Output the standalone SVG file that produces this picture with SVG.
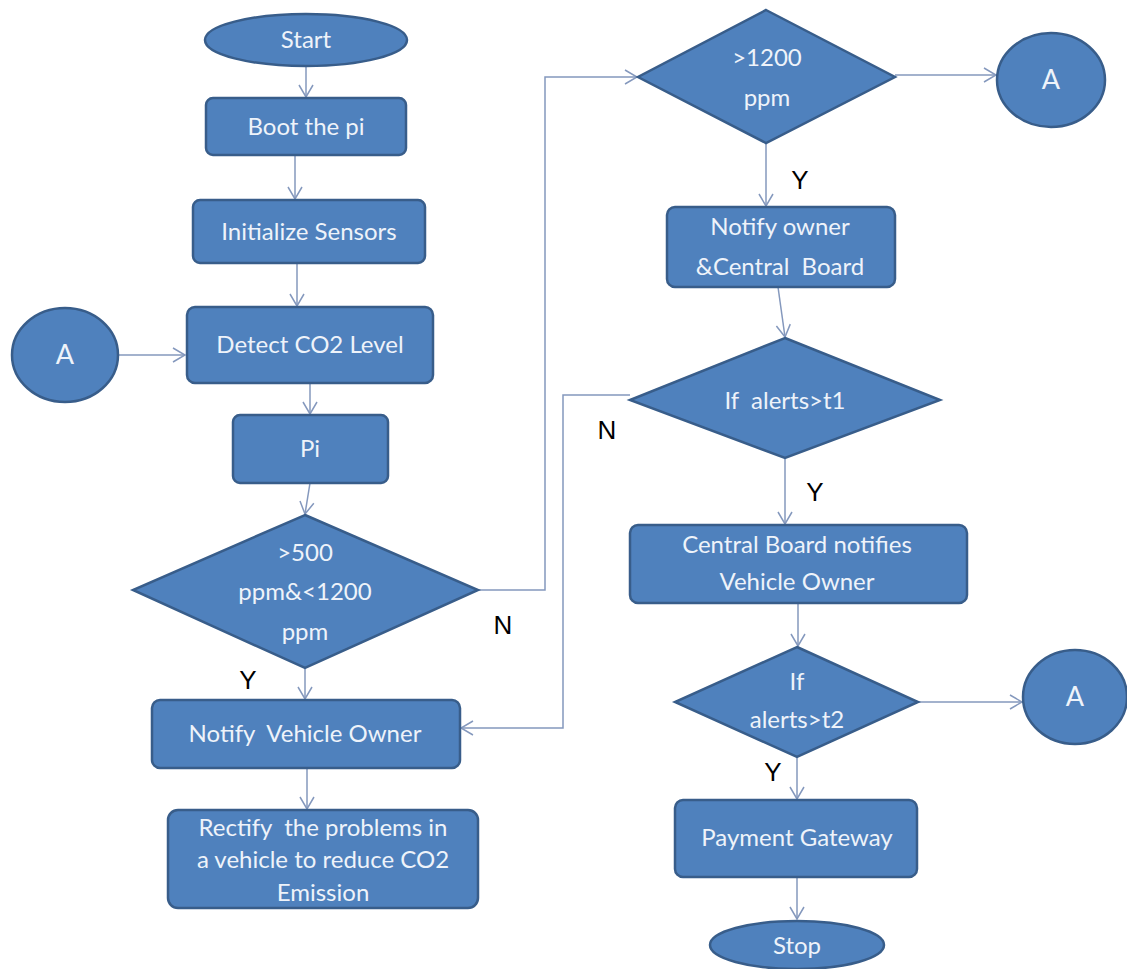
<svg xmlns="http://www.w3.org/2000/svg" width="1127" height="969" viewBox="0 0 1127 969">
<defs>
<marker id="arr" markerUnits="userSpaceOnUse" markerWidth="14" markerHeight="16" viewBox="0 0 14 16" refX="13" refY="8" orient="auto">
<path d="M1,1 L13,8 L1,15" fill="none" stroke="#8498bd" stroke-width="1.5"/>
</marker>
</defs>
<style>
.n{fill:#4f81bd;stroke:#385d8a;stroke-width:2.5}
.t{font-family:Lato,"Open Sans",sans-serif;font-size:24px;fill:#eef3fa;text-anchor:middle}
.a{font-size:27px}
.l{font-family:"Liberation Sans",Arial,sans-serif;font-size:26px;fill:#000;text-anchor:middle}
.c{fill:none;stroke:#8498bd;stroke-width:1.5;marker-end:url(#arr)}
</style>
<rect width="1127" height="969" fill="#fff"/>
<g id="connectors">
<path class="c" d="M306,67 L306,97"/>
<path class="c" d="M295,155 L295,199"/>
<path class="c" d="M297,263 L297,306"/>
<path class="c" d="M118,355 L185,355"/>
<path class="c" d="M310,383 L310,414"/>
<path class="c" d="M310,483 L305,514"/>
<path class="c" d="M305,668 L305,699"/>
<path class="c" d="M478,590 L545,590 L545,77 L637,77"/>
<path class="c" d="M895,75 L996,75"/>
<path class="c" d="M766,143 L766,206"/>
<path class="c" d="M778,287 L785,337"/>
<path class="c" d="M630,395 L563,395 L563,728 L461,728"/>
<path class="c" d="M785,458 L785,524"/>
<path class="c" d="M798,603 L798,646"/>
<path class="c" d="M918,702 L1022,702"/>
<path class="c" d="M797,757 L797,799"/>
<path class="c" d="M797,877 L797,919"/>
<path class="c" d="M307,768 L307,809"/>
</g>
<g id="start"><ellipse class="n" cx="306" cy="40" rx="101" ry="26"/><text class="t" x="306" y="40" dy="0.35em">Start</text></g>
<g id="boot"><rect class="n" x="206" y="98" width="200" height="57" rx="7"/><text class="t" x="306" y="127" dy="0.35em">Boot the pi</text></g>
<g id="init"><rect class="n" x="193" y="200" width="232" height="63" rx="7"/><text class="t" x="309" y="232" dy="0.35em">Initialize Sensors</text></g>
<g id="connectorA1"><ellipse class="n" cx="65" cy="355" rx="53" ry="47"/><text class="t a" x="65" y="355" dy="0.35em">A</text></g>
<g id="detect"><rect class="n" x="187" y="307" width="246" height="76" rx="8"/><text class="t" x="310" y="345" dy="0.35em">Detect CO2 Level</text></g>
<g id="pi"><rect class="n" x="233" y="415" width="155" height="68" rx="7"/><text class="t" x="310" y="449" dy="0.35em">Pi</text></g>
<g id="dec500"><polygon class="n" points="305,515 478,590 305,668 133,590"/>
<text class="t" x="305" y="553" dy="0.35em">&gt;500</text>
<text class="t" x="305" y="592" dy="0.35em">ppm&amp;&lt;1200</text>
<text class="t" x="305" y="632" dy="0.35em">ppm</text></g>
<g id="notifyVO"><rect class="n" x="152" y="700" width="308" height="68" rx="8"/><text class="t" x="305" y="734" dy="0.35em" xml:space="preserve">Notify  Vehicle Owner</text></g>
<g id="rectify"><rect class="n" x="168" y="810" width="310" height="98" rx="10"/>
<text class="t" x="323" y="828" dy="0.35em" xml:space="preserve">Rectify  the problems in</text>
<text class="t" x="323" y="860" dy="0.35em">a vehicle to reduce CO2</text>
<text class="t" x="323" y="893" dy="0.35em">Emission</text></g>
<g id="dec1200"><polygon class="n" points="766,10 895,77 766,143 638,77"/>
<text class="t" x="767" y="58" dy="0.35em">&gt;1200</text>
<text class="t" x="767" y="98" dy="0.35em">ppm</text></g>
<g id="connectorA2"><ellipse class="n" cx="1051" cy="80" rx="54" ry="47"/><text class="t a" x="1051" y="80" dy="0.35em">A</text></g>
<g id="notifyOwner"><rect class="n" x="667" y="207" width="228" height="80" rx="8"/>
<text class="t" x="780" y="227" dy="0.35em">Notify owner</text>
<text class="t" x="780" y="267" dy="0.35em" xml:space="preserve">&amp;Central  Board</text></g>
<g id="decT1"><polygon class="n" points="785,338 940,400 785,458 630,400"/><text class="t" x="785" y="401" dy="0.35em" xml:space="preserve">If  alerts&gt;t1</text></g>
<g id="central"><rect class="n" x="630" y="525" width="337" height="78" rx="8"/>
<text class="t" x="797" y="545" dy="0.35em">Central Board notifies</text>
<text class="t" x="797" y="582" dy="0.35em">Vehicle Owner</text></g>
<g id="decT2"><polygon class="n" points="797,647 918,702 797,757 675,702"/>
<text class="t" x="797" y="682" dy="0.35em">If</text>
<text class="t" x="797" y="720" dy="0.35em">alerts&gt;t2</text></g>
<g id="connectorA3"><ellipse class="n" cx="1075" cy="697" rx="52" ry="47"/><text class="t a" x="1075" y="697" dy="0.35em">A</text></g>
<g id="payment"><rect class="n" x="675" y="800" width="242" height="77" rx="8"/><text class="t" x="797" y="838" dy="0.35em">Payment Gateway</text></g>
<g id="stop"><ellipse class="n" cx="797" cy="945" rx="87" ry="24"/><text class="t" x="797" y="946" dy="0.35em">Stop</text></g>
<g id="labels">
<text class="l" x="248" y="680" dy="0.35em">Y</text>
<text class="l" x="503" y="625" dy="0.35em">N</text>
<text class="l" x="800" y="180" dy="0.35em">Y</text>
<text class="l" x="607" y="430" dy="0.35em">N</text>
<text class="l" x="815" y="492" dy="0.35em">Y</text>
<text class="l" x="773" y="772" dy="0.35em">Y</text>
</g>
</svg>
